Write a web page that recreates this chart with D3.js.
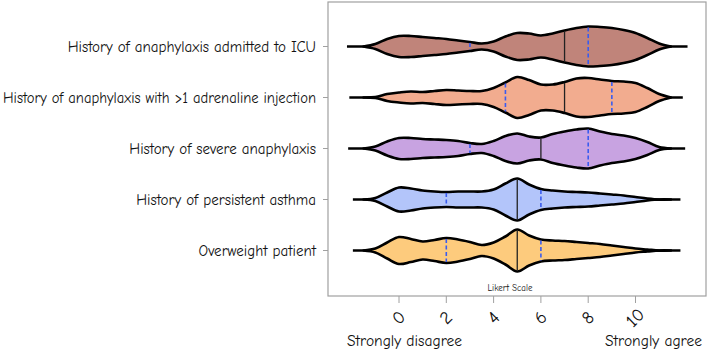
<!DOCTYPE html>
<html>
<head>
<meta charset="utf-8">
<script src="https://cdn.jsdelivr.net/npm/d3@7"></script>
<style>
  body { margin: 0; background: #fff; }
  svg { display: block; }
  text { font-family: "Comic Sans MS", "Comic Neue", "Open Sans", sans-serif; fill: #111; }
</style>
</head>
<body>
<div id="chart"></div>
<script>
// categories, top to bottom
const items = [
  "History of anaphylaxis admitted to ICU",
  "History of anaphylaxis with >1 adrenaline injection",
  "History of severe anaphylaxis",
  "History of persistent asthma",
  "Overweight patient"
];
const fills = ["#c0847a", "#f2ac8f", "#c8a3e1", "#b3c5fa", "#fdcb7d"];

// density grid (likert value) and estimated half-widths per item
const grid = [-1.5,-1,-0.5,0,0.5,1,1.5,2,2.5,3,3.5,4,4.5,5,5.5,6,6.5,7,7.5,8,8.5,9,9.5,10,10.5,11,11.5];
const densIcu       = [0,2.5,7.5,10.5,10.5,9.5,8.5,7.5,6,4.5,3,5,10,13.5,13,11,13,16,18.5,20,19.5,18.5,16.5,13.5,8.5,3,0];
const densAdrenal   = [0,0.5,3.5,5,6,5.5,6.5,7.5,7,6.5,6.5,9.5,15,20.5,17.5,13,13,15.5,19,19.5,18,16.5,16,14.5,9.5,3.5,0];
const densSevere    = [0,2,7,10.5,10.5,9.5,9,8.5,7.5,5.5,4.5,7.5,12.5,15,12,11,14.5,17,19,20,17,14.5,13,10.5,6.5,1.5,0];
const densAsthma    = [0,1.5,7,12,11,9,8,7.5,8,8,8,10,16,21,15,10.5,9,8,7.5,7,6,5,4,2.5,1,0,0];
const densOverweight= [0,2,8,13.5,11.5,9,10.5,12.5,11,8.5,5.5,8,14,21,15,11,10,9.5,8.5,7.5,6.5,5,3.5,2,1,0,0];
const densities = [densIcu, densAdrenal, densSevere, densAsthma, densOverweight];

// quartiles and whisker-tail extents
const q1     = [3, 4.5, 3, 2, 2];
const median = [7, 7, 6, 5, 5];
const q3     = [8, 9, 8, 6, 6];
const tailMin = [-2.2, -2.1, -2.15, -1.95, -1.95];
const tailMax = [12.2, 12.0, 12.1, 11.9, 11.9];

const xTicks = [0, 2, 4, 6, 8, 10];

const W = 709, H = 355;
const box = { left: 328, right: 706, top: 2, bottom: 296 };

const svg = d3.select("#chart").append("svg").attr("width", W).attr("height", H);

const x = d3.scaleLinear().domain([0, 10]).range([399, 635.5]);
const y = d3.scaleBand().domain(items).range([21, 276]).padding(0);
const w = d3.scaleLinear().domain([0, 1]).range([0, 1]); // density already in px half-width

// frame
svg.append("rect")
  .attr("x", box.left).attr("y", box.top)
  .attr("width", box.right - box.left).attr("height", box.bottom - box.top)
  .attr("fill", "none").attr("stroke", "#a0a0a0").attr("stroke-width", 1.2);

// y labels + ticks
items.forEach(d => {
  const cy = y(d) + y.bandwidth() / 2;
  svg.append("line").attr("x1", box.left - 5).attr("x2", box.left)
    .attr("y1", cy).attr("y2", cy).attr("stroke", "#a0a0a0");
  const lbl = svg.append("text").attr("x", box.left - 12).attr("y", cy + 5)
    .attr("text-anchor", "end").attr("font-size", "15px").text(d);
  const maxW = box.left - 12 - 3;
  if (lbl.node().getComputedTextLength() > maxW) {
    lbl.attr("textLength", maxW).attr("lengthAdjust", "spacingAndGlyphs");
  }
});

// x ticks
xTicks.forEach(t => {
  svg.append("line").attr("x1", x(t)).attr("x2", x(t))
    .attr("y1", box.bottom).attr("y2", box.bottom + 7).attr("stroke", "#a0a0a0");
  svg.append("text")
    .attr("transform", `translate(${x(t)},${box.bottom + 22}) rotate(-45)`)
    .attr("text-anchor", "middle").attr("dominant-baseline", "central")
    .attr("font-size", "18px").text(t);
});

svg.append("text").attr("x", 510).attr("y", 291).attr("text-anchor", "middle")
  .attr("font-size", "9px").text("Likert Scale");
svg.append("text").attr("x", 347).attr("y", 346).attr("font-size", "15.5px").text("Strongly disagree");
svg.append("text").attr("x", 702).attr("y", 346).attr("text-anchor", "end").attr("font-size", "15.5px").text("Strongly agree");

function halfAt(dens, v) {
  const i = d3.bisectRight(grid, v) - 1;
  if (i < 0 || i >= grid.length - 1) return 0;
  const t = (v - grid[i]) / (grid[i + 1] - grid[i]);
  return dens[i] + t * (dens[i + 1] - dens[i]);
}

items.forEach((d, i) => {
  const cy = y(d) + y.bandwidth() / 2;
  const dens = densities[i];
  const pts = grid.map((g, k) => [g, dens[k]]);
  const g = svg.append("g");

  g.append("line").attr("x1", x(tailMin[i])).attr("x2", x(tailMax[i]))
    .attr("y1", cy).attr("y2", cy).attr("stroke", "#000").attr("stroke-width", 2.6);

  const area = d3.area()
    .x(p => x(p[0]))
    .y0(p => cy + w(p[1]))
    .y1(p => cy - w(p[1]))
    .curve(d3.curveCatmullRom.alpha(0.5));
  g.append("path").attr("d", area(pts))
    .attr("fill", fills[i]).attr("stroke", "#000").attr("stroke-width", 2.6)
    .attr("stroke-linejoin", "round");

  [[q1[i], "q"], [median[i], "m"], [q3[i], "q"]].forEach(([v, kind]) => {
    const h = halfAt(dens, v) - 1;
    g.append("line").attr("x1", x(v)).attr("x2", x(v))
      .attr("y1", cy - h).attr("y2", cy + h)
      .attr("stroke", kind === "m" ? "#222" : "#3a5cf0")
      .attr("stroke-width", kind === "m" ? 1.3 : 1.6)
      .attr("stroke-dasharray", kind === "m" ? null : "4,2.5");
  });
});
</script>
</body>
</html>
